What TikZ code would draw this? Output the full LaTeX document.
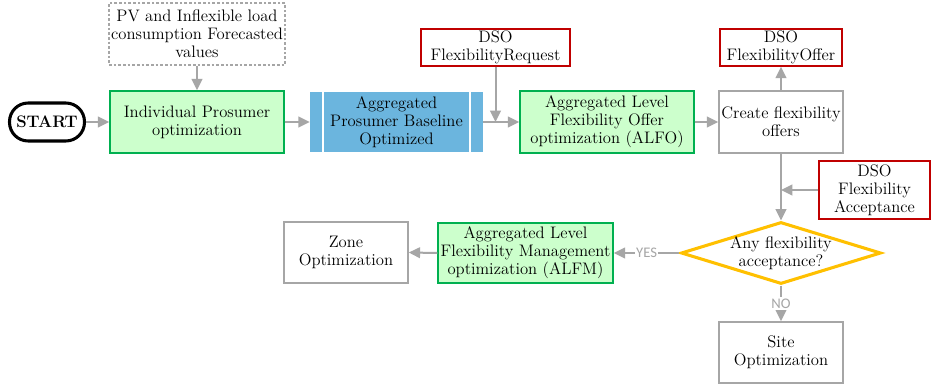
\documentclass[tikz,border=0pt]{standalone}
\usepackage{fontspec}
\newfontfamily\labelfont{Carlito}
\usetikzlibrary{shapes.geometric,arrows.meta}
\definecolor{linegray}{HTML}{A6A6A6}
\definecolor{procgreen}{HTML}{CCFFCC}
\definecolor{procborder}{HTML}{00B050}
\definecolor{baseblue}{HTML}{6BB5DE}
\definecolor{dsored}{HTML}{C00000}
\definecolor{decyellow}{HTML}{FFC000}
\begin{document}
\begin{tikzpicture}[x=0.75pt,y=-0.75pt,
  every node/.style={font=\fontsize{12.5}{13.5}\selectfont, align=center, inner sep=0pt},
  greenbox/.style={draw=procborder, fill=procgreen, line width=1.1pt},
  graybox/.style={draw=linegray, fill=white, line width=1.1pt},
  redbox/.style={draw=dsored, fill=white, line width=1.1pt},
  flow/.style={draw=linegray, line width=1.5pt, -{Triangle[length=8.5pt,width=8pt]}},
  branch/.style={font=\labelfont\fontsize{11}{12}\selectfont, text=linegray, fill=white, inner sep=1pt}]
  % canvas
  \useasboundingbox[fill=white] (0,0) rectangle (935,385);

  % top row
  \node[draw=black, line width=2.3pt, rounded corners=14pt, minimum width=56.25pt, minimum height=28.5pt]
    (start) at (47,122) {\textbf{START}};
  \node[draw=linegray, dash pattern=on 2pt off 1.5pt, line width=1pt, minimum width=132pt, minimum height=46.5pt]
    (pv) at (197,34) {PV and Inflexible load\\consumption Forecasted\\values};
  \node[greenbox, minimum width=130.5pt, minimum height=46.5pt]
    (ipo) at (197,122) {Individual Prosumer\\optimization};
  \node[fill=baseblue, minimum width=129.75pt, minimum height=45pt]
    (apb) at (396.5,122) {Aggregated\\Prosumer Baseline\\Optimized};
  \draw[white, line width=1.6pt] ([xshift=9.75pt]apb.north west) -- ([xshift=9.75pt]apb.south west);
  \draw[white, line width=1.6pt] ([xshift=-9.75pt]apb.north east) -- ([xshift=-9.75pt]apb.south east);
  \node[redbox, minimum width=111.75pt, minimum height=27.75pt]
    (req) at (495.5,47.5) {DSO\\FlexibilityRequest};
  \node[greenbox, minimum width=130.5pt, minimum height=46.5pt]
    (alfo) at (607,122) {Aggregated Level\\Flexibility Offer\\optimization (ALFO)};
  \node[graybox, minimum width=93pt, minimum height=46.5pt]
    (cfo) at (781,122) {Create flexibility\\offers};
  \node[redbox, minimum width=91.5pt, minimum height=27.75pt]
    (off) at (781,47.5) {DSO\\FlexibilityOffer};
  \node[redbox, minimum width=83.25pt, minimum height=43.5pt]
    (acc) at (874.5,190) {DSO\\Flexibility\\Acceptance};

  % decision and lower row
  \node[shape=diamond, draw=decyellow, fill=white, line width=2.3pt, aspect=3.2, inner sep=-3pt,
        minimum width=150pt, minimum height=46.5pt]
    (dia) at (781,253) {Any flexibility\\acceptance?};
  \node[greenbox, minimum width=131.25pt, minimum height=45pt]
    (alfm) at (525.5,253) {Aggregated Level\\Flexibility Management\\optimization (ALFM)};
  \node[graybox, minimum width=93pt, minimum height=45.75pt]
    (zone) at (346,252.5) {Zone\\Optimization};
  \node[graybox, minimum width=93pt, minimum height=45.75pt]
    (site) at (781,352.5) {Site\\Optimization};

  % connectors
  \draw[flow] (start.east) -- (ipo.west);
  \draw[flow] (pv.south) -- (ipo.north);
  \draw[flow] (ipo.east) -- (apb.west);
  \draw[flow] (apb.east) -- (alfo.west);
  \coordinate (reqjoin) at (req.south |- apb.east);
  \draw[flow] (req.south) -- (reqjoin);
  \draw[flow] (alfo.east) -- (cfo.west);
  \draw[flow] (cfo.north) -- (off.south);
  \draw[flow] (cfo.south) -- (dia.north);
  \coordinate (accjoin) at (cfo.south |- acc.west);
  \draw[flow] (acc.west) -- (accjoin);
  \draw[flow] (dia.west) -- node[branch] {YES} (alfm.east);
  \draw[flow] (alfm.west) -- (zone.east);
  \draw[flow] (dia.south) -- node[branch] {NO} (site.north);
\end{tikzpicture}
\end{document}
